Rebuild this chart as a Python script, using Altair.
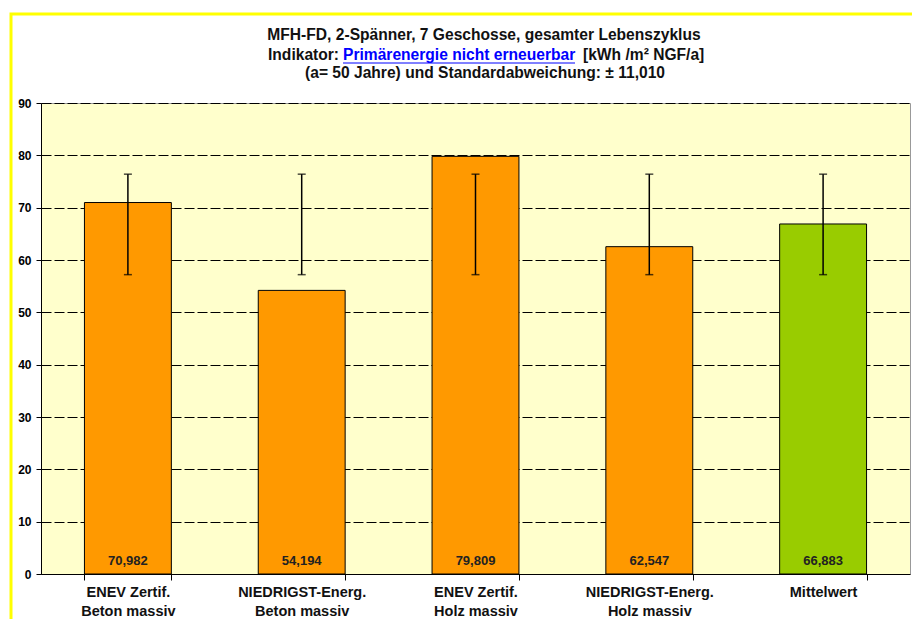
import altair as alt
import pandas as pd

categories = [
    "ENEV Zertif.|Beton massiv",
    "NIEDRIGST-Energ.|Beton massiv",
    "ENEV Zertif.|Holz massiv",
    "NIEDRIGST-Energ.|Holz massiv",
    "Mittelwert",
]
values = [70.982, 54.194, 79.809, 62.547, 66.883]
value_labels = ["70,982", "54,194", "79,809", "62,547", "66,883"]
err_low = [57.2, 57.2, 57.2, 57.2, 57.2]
err_high = [76.4, 76.4, 76.4, 76.4, 76.4]
bar_colors = ["#FF9900", "#FF9900", "#FF9900", "#FF9900", "#99CC00"]
y_ticks = [0, 10, 20, 30, 40, 50, 60, 70, 80, 90]

title_1 = "MFH-FD, 2-Spänner, 7 Geschosse, gesamter Lebenszyklus"
title_2a = "Indikator: "
title_2b = "Primärenergie nicht erneuerbar"
title_2c = "[kWh /m² NGF/a]"
title_3 = "(a= 50 Jahre) und Standardabweichung: ± 11,010"

FONT = "Liberation Sans"

df = pd.DataFrame({
    "category": categories,
    "value": values,
    "label": value_labels,
    "lo": err_low,
    "hi": err_high,
})

x_enc = alt.X(
    "category:N",
    sort=categories,
    title=None,
    scale=alt.Scale(paddingInner=0.5, paddingOuter=0.25),
    axis=alt.Axis(
        labelAngle=0,
        labelExpr="split(datum.label, '|')",
        labelFont=FONT,
        labelFontSize=14.5,
        labelFontWeight="bold",
        labelColor="#111111",
        labelLineHeight=19,
        labelPadding=5,
        labelLimit=0,
        tickBand="extent",
        tickColor="black",
        tickSize=6,
        domainColor="black",
        grid=False,
    ),
)

y_enc = alt.Y(
    "value:Q",
    scale=alt.Scale(domain=[0, 90], nice=False),
    axis=alt.Axis(
        values=y_ticks,
        format="d",
        title=None,
        grid=True,
        gridDash=[10, 3],
        gridColor="black",
        gridOpacity=1,
        gridWidth=1,
        domainColor="black",
        tickColor="black",
        tickSize=5,
        labelFont=FONT,
        labelFontSize=12,
        labelFontWeight="bold",
        labelColor="black",
        labelPadding=5,
    ),
)

base = alt.Chart(df)

bars = base.mark_bar(stroke="black", strokeWidth=1).encode(
    x=x_enc,
    y=y_enc,
    color=alt.Color("category:N", scale=alt.Scale(domain=categories, range=bar_colors), legend=None),
)

err_rule = base.mark_rule(color="black", strokeWidth=1.5).encode(
    x=x_enc, y=alt.Y("lo:Q"), y2="hi:Q"
)
cap_lo = base.mark_tick(color="black", thickness=1.5, size=8).encode(x=x_enc, y=alt.Y("lo:Q"))
cap_hi = base.mark_tick(color="black", thickness=1.5, size=8).encode(x=x_enc, y=alt.Y("hi:Q"))

val_text = base.mark_text(
    font=FONT, fontSize=13, fontWeight="bold", color="#222222", dy=-13, baseline="middle"
).encode(x=x_enc, y=alt.datum(0), text="label:N")


def text_line(t, xpx, ypx, align, color="#111111"):
    return alt.Chart(pd.DataFrame({"t": [t]})).mark_text(
        font=FONT, fontSize=15.6, fontWeight="bold", color=color, align=align, baseline="middle"
    ).encode(x=alt.value(xpx), y=alt.value(ypx), text="t:N")


t1 = text_line(title_1, 443, -68, "center")
t2a = text_line(title_2a, 227, -48, "left")
t2b = text_line(title_2b, 302, -48, "left", color="#0000FF")
t2c = text_line(title_2c, 542, -48, "left")
t3 = text_line(title_3, 444, -30, "center")
underline = alt.Chart(pd.DataFrame({"a": [0]})).mark_rule(color="#0000FF", strokeWidth=1).encode(
    x=alt.value(302), x2=alt.value(534), y=alt.value(-40)
)

border = alt.Chart(pd.DataFrame({"a": [0]})).mark_rect(
    fillOpacity=0, stroke="#FFFF00", strokeWidth=3
).encode(x=alt.value(-30), x2=alt.value(900), y=alt.value(-89), y2=alt.value(560))

chart = alt.layer(
    bars, err_rule, cap_lo, cap_hi, val_text, t1, t2a, t2b, t2c, t3, underline, border
).properties(
    width=869,
    height=471,
    autosize=alt.AutoSizeParams(type="none"),
    padding={"left": 33, "top": 95, "right": 2, "bottom": 46},
    background="white",
).configure_view(
    fill="#FFFFCC", stroke="#999999", strokeWidth=1
)

chart.save("out.html", embed_options={"renderer": "svg", "actions": False})
